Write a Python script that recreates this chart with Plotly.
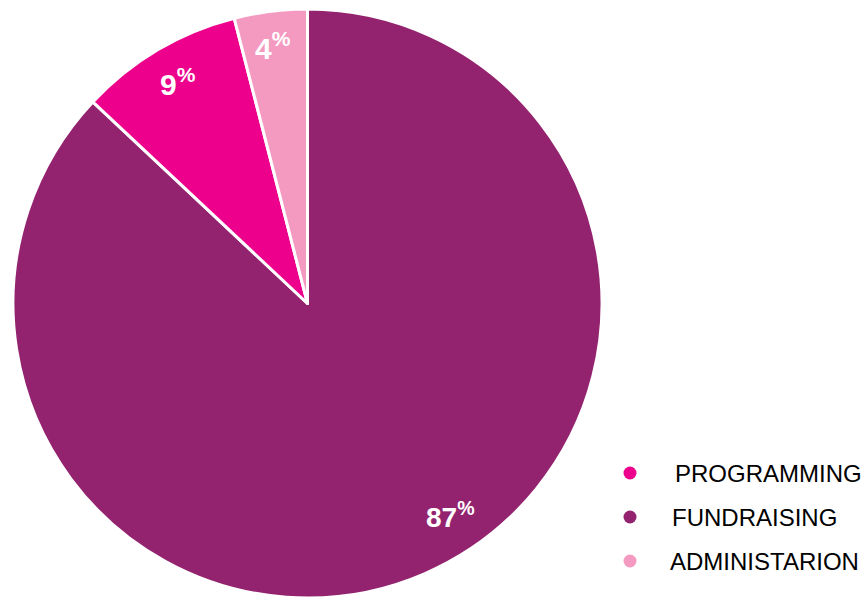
import plotly.graph_objects as go

# Data (legend order)
categories = ["PROGRAMMING", "FUNDRAISING", "ADMINISTARION"]
values = [9, 87, 4]
colors = ["#EC008C", "#93236F", "#F49AC1"]

# Pie drawing order (clockwise from 12 o'clock)
pie_order = [1, 0, 2]

W, H = 864, 598

fig = go.Figure()
fig.add_trace(go.Pie(
    labels=[categories[i] for i in pie_order],
    values=[values[i] for i in pie_order],
    marker=dict(colors=[colors[i] for i in pie_order], line=dict(color="white", width=3)),
    sort=False,
    direction="clockwise",
    rotation=0,
    textinfo="none",
    hoverinfo="label+percent",
    showlegend=False,
    domain=dict(x=[13 / W, 602 / W], y=[0, 1 - 9 / H]),
))

# Percentage labels (pixel centres)
label_pos = {"FUNDRAISING": (450, 515, 28), "PROGRAMMING": (178, 82, 30), "ADMINISTARION": (273, 46, 30)}
annotations = []
for cat, val in zip(categories, values):
    px, py, fs = label_pos[cat]
    annotations.append(dict(
        x=px / W, y=1 - py / H, xref="paper", yref="paper",
        text=f"<b>{val}<sup>%</sup></b>", showarrow=False,
        xanchor="center", yanchor="middle",
        font=dict(family="Liberation Sans, Arial", size=fs, color="white"),
    ))

# Custom legend
shapes = []
legend_y = [473, 517, 561]
legend_text_x = [673, 670, 668]
for i, cat in enumerate(categories):
    cy = legend_y[i]
    shapes.append(dict(
        type="circle", xref="paper", yref="paper",
        x0=(630 - 6.5) / W, x1=(630 + 6.5) / W,
        y0=1 - (cy + 6.5) / H, y1=1 - (cy - 6.5) / H,
        fillcolor=colors[i], line=dict(width=0),
    ))
    annotations.append(dict(
        x=legend_text_x[i] / W, y=1 - cy / H, xref="paper", yref="paper",
        text=cat, showarrow=False, xanchor="left", yanchor="middle",
        font=dict(family="Liberation Sans, Arial", size=24, color="black"),
    ))

fig.update_layout(
    width=W, height=H,
    margin=dict(l=0, r=0, t=0, b=0),
    paper_bgcolor="white", plot_bgcolor="white",
    annotations=annotations, shapes=shapes,
)

fig.write_html("out.html")
